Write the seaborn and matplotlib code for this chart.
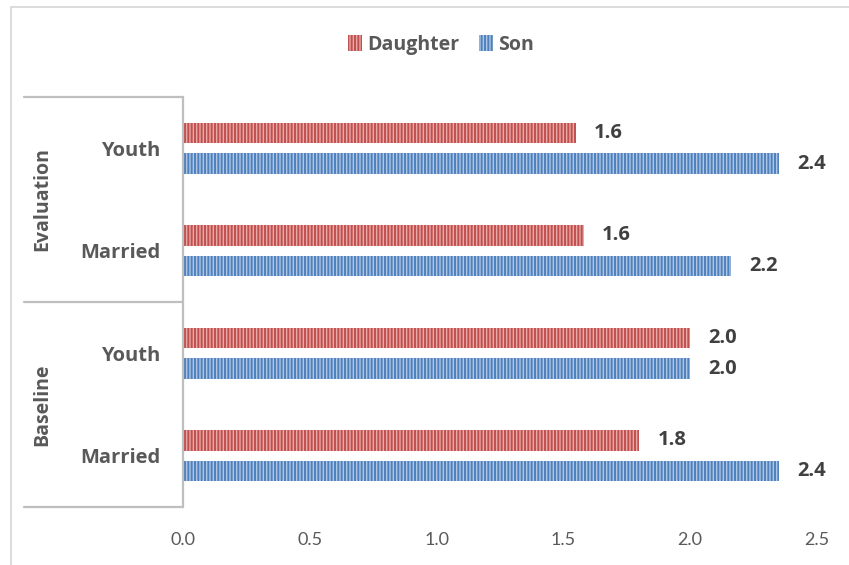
import matplotlib
matplotlib.use("Agg")
import matplotlib.pyplot as plt
import matplotlib.transforms as mtransforms
from matplotlib.lines import Line2D
from matplotlib.patches import Patch
import pandas as pd
import seaborn as sns

# Mean scores by survey round and respondent group
periods = ["Evaluation", "Evaluation", "Baseline", "Baseline"]
groups = ["Youth", "Married", "Youth", "Married"]
daughter = [1.55, 1.58, 2.0, 1.8]
son = [2.35, 2.16, 2.0, 2.35]
series_names = ["Daughter", "Son"]
x_ticks = [0.0, 0.5, 1.0, 1.5, 2.0, 2.5]

light_colors = ["#E8A9A8", "#AFC6E4"]
dark_colors = ["#C0504D", "#4F81BD"]
hatch = "|||||"
grey_line = "#BFBFBF"
text_grey = "#595959"
bold_font = ["Open Sans", "DejaVu Sans"]

sns.set_theme(style="white")
plt.rcParams["font.family"] = ["Lato", "DejaVu Sans"]
plt.rcParams["hatch.linewidth"] = 1.4

keys = [f"{p} {g}" for p, g in zip(periods, groups)]
df = pd.DataFrame({
    "key": keys * 2,
    "value": daughter + son,
    "series": [series_names[0]] * len(keys) + [series_names[1]] * len(keys),
})

fig = plt.figure(figsize=(8.49, 5.65), dpi=100)
ax = fig.add_axes([183 / 849, 1 - 507 / 565, 634 / 849, 410 / 565])

sns.barplot(data=df, y="key", x="value", hue="series", orient="h",
            order=keys, hue_order=series_names, palette=light_colors,
            saturation=1, width=0.6, gap=1 / 3, legend=False, ax=ax)

for container, values, dark in zip(ax.containers, [daughter, son], dark_colors):
    for bar in container:
        bar.set_hatch(hatch)
        bar.set_edgecolor(dark)
        bar.set_linewidth(0)
    ax.bar_label(container, labels=[f"{v:.1f}" for v in values], padding=13,
                 fontsize=14.5, fontweight="bold", color="#404040",
                 family=bold_font)

ax.set_xlim(0, 2.5)
ax.set_ylim(len(keys) - 0.5, -0.5)
ax.set_xticks(x_ticks)
ax.set_xticklabels([f"{t:.1f}" for t in x_ticks], fontsize=13, color=text_grey)
ax.set_yticks(range(len(keys)))
ax.set_yticklabels(groups, fontsize=14.5, fontweight="bold", color=text_grey,
                   family=bold_font)
ax.tick_params(axis="x", length=0, pad=18)
ax.tick_params(axis="y", length=0, pad=16.5)
ax.set_xlabel("")
ax.set_ylabel("")

for side in ["top", "right", "bottom"]:
    ax.spines[side].set_visible(False)
ax.spines["left"].set_color(grey_line)
ax.spines["left"].set_linewidth(1.6)

# Two-level category axis: bracket lines and rotated period labels
trans = mtransforms.blended_transform_factory(ax.transAxes, ax.transData)
x_left = (24 - 183) / 634
for y in [-0.5, 1.5, 3.5]:
    ax.add_line(Line2D([x_left, 0], [y, y], transform=trans, color=grey_line,
                       lw=1.6, clip_on=False))
seen = []
for p in periods:
    if p not in seen:
        seen.append(p)
for p in seen:
    idx = [i for i, q in enumerate(periods) if q == p]
    yc = sum(idx) / len(idx)
    ax.text((42 - 183) / 634, yc, p, transform=trans, rotation=90,
            ha="center", va="center", fontsize=14, fontweight="bold",
            color=text_grey, family=bold_font, clip_on=False)

# Chart border
border = "#D9D9D9"
fig.add_artist(Line2D([11 / 849, 1.0], [1 - 7 / 565] * 2,
                      transform=fig.transFigure, color=border, lw=1.3))
fig.add_artist(Line2D([11 / 849] * 2, [0.0, 1 - 7 / 565],
                      transform=fig.transFigure, color=border, lw=1.3))

handles = [Patch(facecolor=lc, edgecolor=dc, hatch=hatch, lw=0)
           for lc, dc in zip(light_colors, dark_colors)]
fig.legend(handles, series_names, loc="center",
           bbox_to_anchor=(441 / 849, 1 - 45 / 565), ncol=2, frameon=False,
           prop={"weight": "bold", "size": 14, "family": bold_font},
           labelcolor=text_grey, handlelength=0.7, handleheight=0.9,
           handletextpad=0.3, columnspacing=1.0)

fig.savefig("out.png", dpi=100)
